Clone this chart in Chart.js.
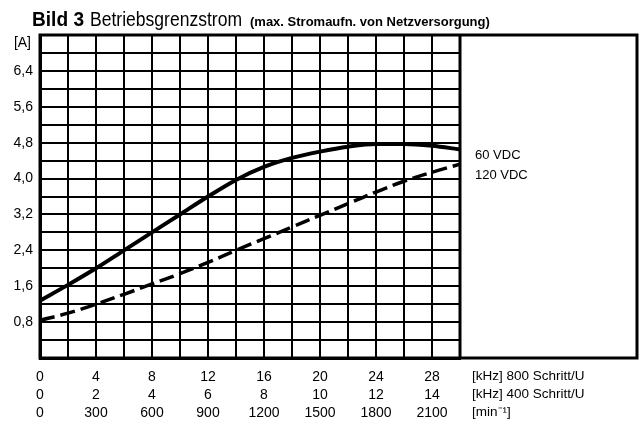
<!DOCTYPE html>
<html>
<head>
<meta charset="utf-8">
<script src="https://cdn.jsdelivr.net/npm/chart.js@4/dist/chart.umd.min.js"></script>
<style>
  html, body { margin: 0; padding: 0; background: #fff; }
  #wrap { width: 642px; height: 424px; position: relative; }
</style>
</head>
<body>
<div id="wrap"><canvas id="limit-chart"></canvas></div>
<script>
// frequency at 800 steps/rev [kHz], grid every 2
var freqPoints = [0, 2, 4, 6, 8, 10, 12, 14, 16, 18, 20, 22, 24, 26, 28, 30];
// current limit [A]
var current60 = [1.28, 1.63, 2.0, 2.4, 2.8, 3.2, 3.6, 3.97, 4.26, 4.46, 4.6, 4.71, 4.77, 4.77, 4.73, 4.65];
var current120 = [0.84, 1.0, 1.2, 1.42, 1.65, 1.88, 2.13, 2.4, 2.66, 2.92, 3.18, 3.44, 3.7, 3.94, 4.14, 4.32];

// three rows of x tick labels
var ticks800 = ['0', '4', '8', '12', '16', '20', '24', '28'];
var ticks400 = ['0', '2', '4', '6', '8', '10', '12', '14'];
var ticksRpm = ['0', '300', '600', '900', '1200', '1500', '1800', '2100'];
var rowUnits = ['[kHz] 800 Schritt/U', '[kHz] 400 Schritt/U', '[min\u207B\u00B9]'];
var yTicks = ['0,8', '1,6', '2,4', '3,2', '4,0', '4,8', '5,6', '6,4'];
var yUnit = '[A]';
var seriesNames = ['60 VDC', '120 VDC'];

function pts(ys) {
  return freqPoints.map(function (x, i) { return { x: x, y: ys[i] }; });
}

var FONT = '"Liberation Sans", Arial, sans-serif';

var decor = {
  id: 'decor',
  beforeDraw: function (chart) {
    var ctx = chart.ctx;
    ctx.save();
    ctx.fillStyle = '#fff';
    ctx.fillRect(0, 0, chart.width, chart.height);
    ctx.restore();
  },
  afterDraw: function (chart) {
    var ctx = chart.ctx;
    var a = chart.chartArea;
    ctx.save();
    ctx.strokeStyle = '#000';
    ctx.fillStyle = '#000';
    // outer frame incl. empty box on the right
    ctx.lineWidth = 3;
    ctx.strokeRect(a.left, a.top, 637 - a.left, a.bottom - a.top);
    ctx.beginPath();
    ctx.moveTo(a.right, a.top);
    ctx.lineTo(a.right, a.bottom);
    ctx.stroke();

    // title
    ctx.textBaseline = 'alphabetic';
    ctx.textAlign = 'left';
    ctx.font = 'bold 20px ' + FONT;
    ctx.fillText('Bild 3', 32, 26, 52);
    ctx.font = '20px ' + FONT;
    ctx.fillText('Betriebsgrenzstrom', 90, 26, 152);
    ctx.font = 'bold 13px ' + FONT;
    ctx.fillText('(max. Stromaufn. von Netzversorgung)', 250, 26, 250);

    // y unit
    ctx.font = '14px ' + FONT;
    ctx.textBaseline = 'middle';
    ctx.textAlign = 'right';
    ctx.fillText(yUnit, 31, 43);

    // series labels
    ctx.textAlign = 'left';
    ctx.font = '13px ' + FONT;
    ctx.fillText(seriesNames[0], 475, 155);
    ctx.fillText(seriesNames[1], 475, 175);

    // unit rows under the axis
    ctx.font = '13.5px ' + FONT;
    for (var i = 0; i < rowUnits.length; i++) {
      ctx.fillText(rowUnits[i], 472, 376 + i * 18, 142);
    }
    ctx.restore();
  }
};

var ctxEl = document.getElementById('limit-chart');
new Chart(ctxEl, {
  type: 'line',
  data: {
    datasets: [{
      label: seriesNames[0],
      data: pts(current60),
      borderColor: '#000',
      borderWidth: 4,
      pointRadius: 0,
      cubicInterpolationMode: 'monotone',
      fill: false
    }, {
      label: seriesNames[1],
      data: pts(current120),
      borderColor: '#000',
      borderWidth: 3.5,
      borderDash: [15, 6],
      pointRadius: 0,
      tension: 0.4,
      fill: false
    }]
  },
  options: {
    responsive: true,
    maintainAspectRatio: false,
    animation: false,
    layout: { padding: { left: 0, top: 35, right: 182, bottom: 0 } },
    plugins: { legend: { display: false }, title: { display: false }, tooltip: { enabled: false } },
    scales: {
      x: {
        type: 'linear',
        min: 0,
        max: 30,
        grid: { color: '#000', lineWidth: 2, drawTicks: false },
        border: { color: '#000', width: 3 },
        ticks: {
          stepSize: 2,
          autoSkip: false,
          maxRotation: 0,
          padding: 10,
          color: '#000',
          font: { family: FONT, size: 14, lineHeight: 1.29 },
          callback: function (v) {
            if (v % 4 !== 0 || v >= 30) return '';
            var i = v / 4;
            return [ticks800[i], ticks400[i], ticksRpm[i]];
          }
        },
        afterFit: function (s) { s.height = 66; }
      },
      y: {
        min: 0,
        max: 7.2,
        grid: { color: '#000', lineWidth: 2, drawTicks: false },
        border: { color: '#000', width: 3 },
        ticks: {
          stepSize: 0.4,
          autoSkip: false,
          padding: 7,
          color: '#000',
          font: { family: FONT, size: 14 },
          callback: function (v) {
            var k = Math.round(v * 10);
            if (k > 0 && k % 8 === 0 && k < 72) return yTicks[k / 8 - 1];
            return '';
          }
        },
        afterFit: function (s) { s.width = 40; }
      }
    }
  },
  plugins: [decor]
});
</script>
</body>
</html>
